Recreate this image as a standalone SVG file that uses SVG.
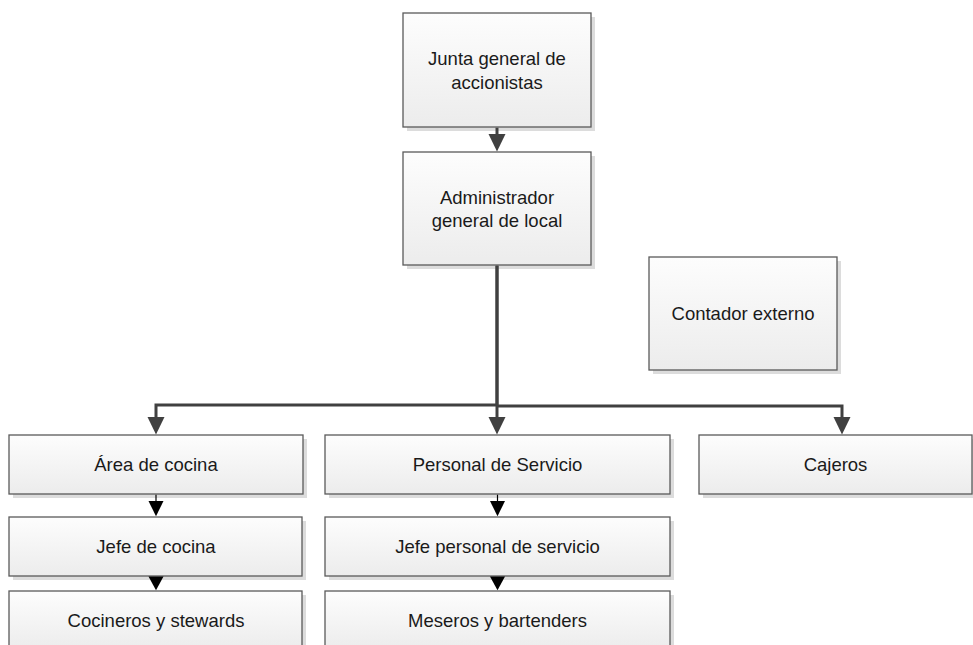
<svg xmlns="http://www.w3.org/2000/svg" width="973" height="645" viewBox="0 0 973 645">
<style>
.box{fill:url(#g);stroke:#5a5a5a;stroke-width:1.3}
.sh{fill:#dcdcdc}
text{font-family:"Liberation Sans",Arial,sans-serif;font-size:18.5px;fill:#1a1a1a;text-anchor:middle}
.main{fill:none;stroke:#404040;stroke-width:3}
.sub{fill:none;stroke:#000;stroke-width:1.2}
.ah{fill:#404040}
.as{fill:#000}
</style>
<defs>
<linearGradient id="g" x1="0" y1="0" x2="0" y2="1">
<stop offset="0" stop-color="#fdfdfd"/>
<stop offset="1" stop-color="#ececec"/>
</linearGradient>
</defs>
<rect width="973" height="645" fill="#fff"/>
<g id="junta">
<rect class="sh" x="407" y="17" width="188" height="114"/>
<rect class="box" x="403" y="13" width="188" height="114"/>
<text x="497" y="65">Junta general de</text>
<text x="497" y="88.5">accionistas</text>
</g>
<g id="administrador">
<rect class="sh" x="407" y="156" width="188" height="113"/>
<rect class="box" x="403" y="152" width="188" height="113"/>
<text x="497" y="203.5">Administrador</text>
<text x="497" y="227">general de local</text>
</g>
<g id="contador">
<rect class="sh" x="653" y="261" width="188" height="113"/>
<rect class="box" x="649" y="257" width="188" height="113"/>
<text x="743" y="320">Contador externo</text>
</g>
<g id="area-cocina">
<rect class="sh" x="13" y="439" width="294" height="59"/>
<rect class="box" x="9" y="435" width="294" height="59"/>
<text x="156" y="471">Área de cocina</text>
</g>
<g id="jefe-cocina">
<rect class="sh" x="13" y="521" width="293" height="59"/>
<rect class="box" x="9" y="517" width="293" height="59"/>
<text x="156" y="552.5">Jefe de cocina</text>
</g>
<g id="cocineros">
<rect class="sh" x="13" y="595" width="293" height="59"/>
<rect class="box" x="9" y="591" width="293" height="59"/>
<text x="156" y="627">Cocineros y stewards</text>
</g>
<g id="personal-servicio">
<rect class="sh" x="329" y="439" width="345" height="59"/>
<rect class="box" x="325" y="435" width="345" height="59"/>
<text x="497.5" y="471">Personal de Servicio</text>
</g>
<g id="jefe-personal">
<rect class="sh" x="329" y="521" width="345" height="59"/>
<rect class="box" x="325" y="517" width="345" height="59"/>
<text x="497.5" y="552.5">Jefe personal de servicio</text>
</g>
<g id="meseros">
<rect class="sh" x="329" y="595" width="345" height="59"/>
<rect class="box" x="325" y="591" width="345" height="59"/>
<text x="497.5" y="627">Meseros y bartenders</text>
</g>
<g id="cajeros">
<rect class="sh" x="703" y="439" width="273" height="59"/>
<rect class="box" x="699" y="435" width="273" height="59"/>
<text x="835.5" y="471">Cajeros</text>
</g>
<g id="connectors">
<path class="main" d="M497,127.7 V136"/>
<polygon class="ah" points="488.5,134 505.5,134 497,151.5"/>
<path class="main" d="M497,265.7 V405 H156 V419"/>
<polygon class="ah" points="147.5,417 164.5,417 156,434.5"/>
<path class="main" d="M497,265.7 V419"/>
<polygon class="ah" points="488.5,417 505.5,417 497,434.5"/>
<path class="main" d="M497,406 H842 V419"/>
<polygon class="ah" points="833.5,417 850.5,417 842,434.5"/>
<path class="sub" d="M156,494.7 V502"/>
<polygon class="as" points="148.5,501 163.5,501 156,516.3"/>
<polygon class="as" points="148.5,576.5 163.5,576.5 156,590.3"/>
<path class="sub" d="M497.5,494.7 V502"/>
<polygon class="as" points="490,501 505,501 497.5,516.3"/>
<polygon class="as" points="490,576.5 505,576.5 497.5,590.3"/>
</g>
</svg>
